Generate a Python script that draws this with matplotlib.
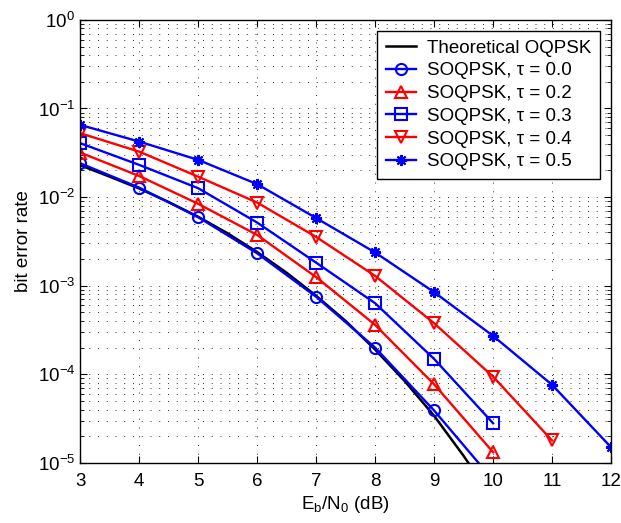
import matplotlib
matplotlib.use("Agg")
import matplotlib.pyplot as plt
from matplotlib.ticker import LogLocator, MultipleLocator, NullFormatter

plt.rcParams["font.family"] = ["Liberation Sans", "DejaVu Sans"]
plt.rcParams["mathtext.default"] = "regular"
plt.rcParams["font.size"] = 13.5

# ── Data ──────────────────────────────────────
ebn0 = [3, 4, 5, 6, 7, 8, 9, 10, 11, 12]

theory_x = [3, 3.5, 4, 4.5, 5, 5.5, 6, 6.5, 7, 7.5, 8, 8.5, 9, 9.5, 10]
theory_y = [2.29e-2, 1.70e-2, 1.25e-2, 8.8e-3, 6.0e-3, 3.9e-3, 2.4e-3,
            1.4e-3, 7.7e-4, 4.0e-4, 1.9e-4, 8.4e-5, 3.4e-5, 1.2e-5, 3.9e-6]

ber_t00 = [2.41e-2, 1.28e-2, 5.93e-3, 2.32e-3, 7.5e-4, 2.0e-4, 3.9e-5, 6.4e-6]
ber_t02 = [3.18e-2, 1.73e-2, 8.4e-3, 3.74e-3, 1.25e-3, 3.61e-4, 7.7e-5, 1.32e-5]
ber_t03 = [4.06e-2, 2.31e-2, 1.26e-2, 5.16e-3, 1.82e-3, 6.34e-4, 1.49e-4, 2.8e-5]
ber_t04 = [5.26e-2, 3.26e-2, 1.70e-2, 8.67e-3, 3.55e-3, 1.29e-3, 3.77e-4, 9.4e-5, 1.79e-5]
ber_t05 = [6.53e-2, 4.23e-2, 2.63e-2, 1.40e-2, 5.8e-3, 2.37e-3, 8.45e-4, 2.71e-4, 7.6e-5, 1.5e-5]

series = [
    (ber_t00, "blue", "o",        "SOQPSK, τ = 0.0"),
    (ber_t02, "red",  "^",        "SOQPSK, τ = 0.2"),
    (ber_t03, "blue", "s",        "SOQPSK, τ = 0.3"),
    (ber_t04, "red",  "v",        "SOQPSK, τ = 0.4"),
    (ber_t05, "blue", (8, 2, 0),  "SOQPSK, τ = 0.5"),
]

# ── Figure ────────────────────────────────────
fig = plt.figure(figsize=(6.21, 5.23), dpi=100)
ax = fig.add_axes([0.129, 0.115, 0.855, 0.847])

ax.semilogy(theory_x, theory_y, color="black", lw=1.8, label="Theoretical OQPSK")
for ber, col, mk, lab in series:
    ax.semilogy(ebn0[:len(ber)], ber, color=col, marker=mk, lw=1.7,
                ms=8, mew=1.5, fillstyle="none", label=lab)

ax.set_xlim(3, 12)
ax.set_ylim(1e-5, 1)
ax.xaxis.set_major_locator(MultipleLocator(1))
ax.yaxis.set_major_locator(LogLocator(base=10, numticks=10))
ax.yaxis.set_minor_locator(LogLocator(base=10, subs=range(2, 10), numticks=10))
ax.yaxis.set_minor_formatter(NullFormatter())

grid_ls = (0, (1, 8))
ax.grid(True, which="major", ls=grid_ls, color="#333333", lw=0.7)
ax.grid(True, which="minor", axis="y", ls=grid_ls, color="#333333", lw=0.7)
ax.set_axisbelow(True)
ax.tick_params(which="both", direction="in", top=True, right=True)
ax.tick_params(which="major", length=5)
ax.tick_params(which="minor", length=3)
ax.tick_params(axis="x", pad=7)
for sp in ax.spines.values():
    sp.set_linewidth(1.0)

ax.set_xlabel("E$_b$/N$_0$ (dB)", labelpad=3)
ax.set_ylabel("bit error rate")

leg = ax.legend(loc="upper right", fancybox=False, framealpha=1,
                edgecolor="black", fontsize=13.5, handlelength=1.6,
                handletextpad=0.6, labelspacing=0.3,
                borderaxespad=0.6, borderpad=0.45)
leg.get_frame().set_linewidth(1.0)

fig.savefig("out.png", dpi=100)
